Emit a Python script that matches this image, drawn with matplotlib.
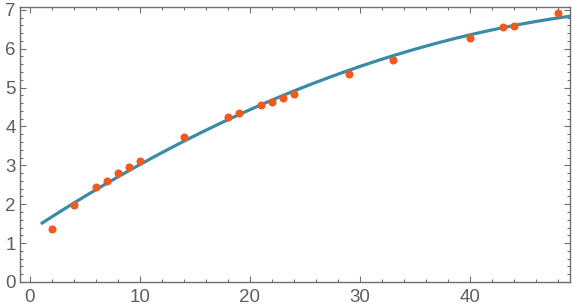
import numpy as np
import matplotlib
matplotlib.use("Agg")
import matplotlib.pyplot as plt
from matplotlib.ticker import MultipleLocator

x_data = [2, 4, 6, 7, 8, 9, 10, 14, 18, 19, 21, 22, 23, 24, 29, 33, 40, 43, 44, 48]
y_data = [1.36, 1.98, 2.45, 2.60, 2.81, 2.96, 3.11, 3.74, 4.25, 4.35, 4.54, 4.64,
          4.74, 4.84, 5.35, 5.71, 6.28, 6.55, 6.59, 6.92]
x_ticks = [0, 10, 20, 30, 40]
y_ticks = [0, 1, 2, 3, 4, 5, 6, 7]

# quadratic least-squares fit of the data (the blue curve)
coef = np.polyfit(x_data, y_data, 2)
xf = np.linspace(1, 49.2, 300)
yf = np.polyval(coef, xf)

plt.rcParams["font.family"] = ["Liberation Sans", "DejaVu Sans"]

fig = plt.figure(figsize=(5.72, 3.08), dpi=100)
ax = fig.add_axes([20/572, 26/308, 550/572, 275/308])

ax.plot(xf, yf, color="#3A8BAA", lw=2.3, solid_capstyle="butt", zorder=2)
ax.plot(x_data, y_data, "o", color="#F05A1E", ms=5.8, mec="none", zorder=3)

ax.set_xlim(-0.9, 49.1)
ax.set_ylim(0, 7.07)
ax.set_xticks(x_ticks)
ax.set_yticks(y_ticks)
ax.xaxis.set_minor_locator(MultipleLocator(2))
ax.yaxis.set_minor_locator(MultipleLocator(0.2))

frame_col = "#6e6e6e"
for s in ax.spines.values():
    s.set_color(frame_col)
    s.set_linewidth(1.0)
ax.tick_params(which="both", direction="in", top=True, right=True, color=frame_col, width=0.8,
               labelcolor="#5f5f5f", labelsize=13.5)
ax.tick_params(which="major", length=4.5)
ax.tick_params(which="minor", length=2.5)
ax.tick_params(axis="x", pad=5)
ax.tick_params(axis="y", pad=3)

fig.savefig("out.png", dpi=100)
